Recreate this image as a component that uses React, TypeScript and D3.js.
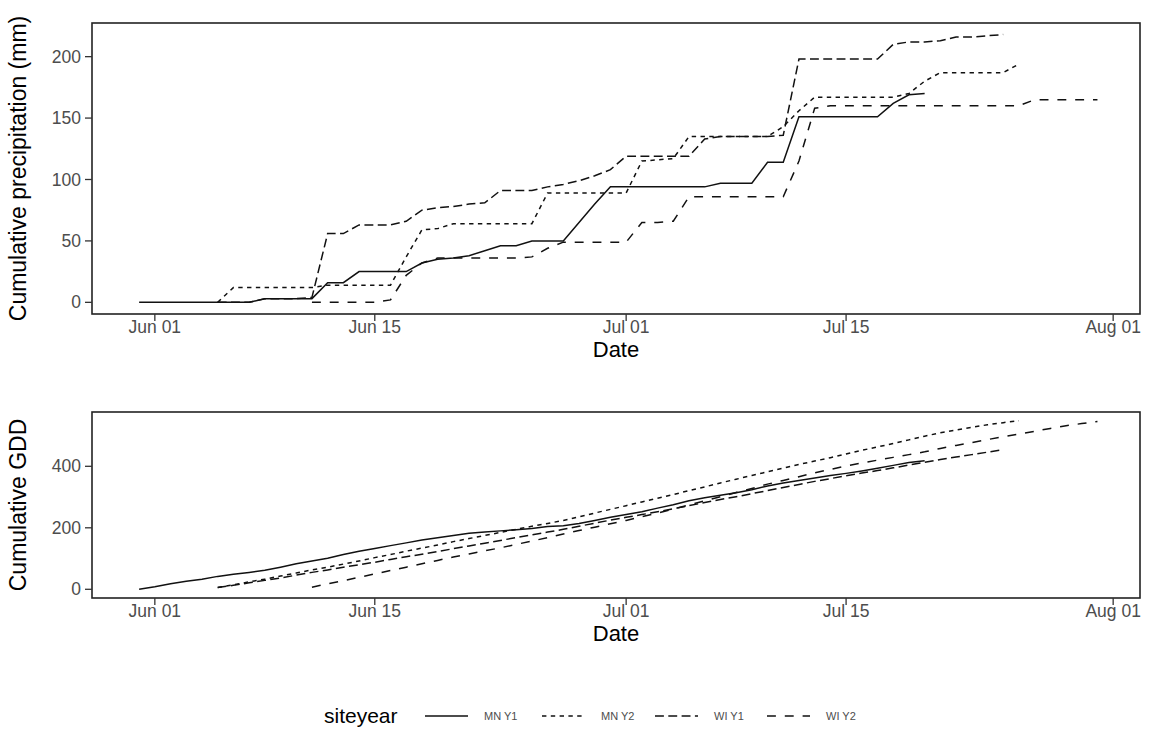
import React from 'react';
import * as d3 from 'd3';

// siteyear series, daily values starting at the given date
const siteyears = ['MN Y1', 'MN Y2', 'WI Y1', 'WI Y2'];
const startDates = ['2021-05-31', '2021-06-05', '2021-06-05', '2021-06-11'];

// cumulative precipitation (mm)
const precipMNY1 = [0, 0, 0, 0, 0, 0, 0, 0, 3, 3, 3, 3, 16, 16, 25, 25, 25, 25, 32, 35, 36, 38, 42, 46, 46, 50, 50, 50, 65, 80, 94, 94, 94, 94, 94, 94, 94, 97, 97, 97, 114, 114, 151, 151, 151, 151, 151, 151, 162, 169, 170];
const precipMNY2 = [0, 12, 12, 12, 12, 12, 12, 14, 14, 14, 14, 14, 37, 59, 60, 64, 64, 64, 64, 64, 64, 89, 89, 89, 89, 89, 89, 115, 116, 117, 135, 135, 135, 135, 135, 135, 143, 156, 167, 167, 167, 167, 167, 167, 170, 180, 187, 187, 187, 187, 187, 194];
const precipWIY1 = [0, 0, 0, 3, 3, 3, 4, 56, 56, 63, 63, 63, 66, 75, 77, 78, 80, 81, 91, 91, 91, 94, 96, 99, 103, 108, 119, 119, 119, 119, 119, 133, 135, 135, 135, 135, 136, 198, 198, 198, 198, 198, 198, 210, 212, 212, 213, 216, 216, 217, 218];
const precipWIY2 = [0, 0, 0, 0, 0, 2, 22, 32, 36, 36, 36, 36, 36, 36, 37, 44, 49, 49, 49, 49, 49, 65, 65, 66, 86, 86, 86, 86, 86, 86, 86, 115, 158, 160, 160, 160, 160, 160, 160, 160, 160, 160, 160, 160, 160, 160, 165, 165, 165, 165, 165];

// cumulative GDD
const gddMNY1 = [0, 8, 18, 26, 33, 42, 49, 55, 62, 72, 83, 92, 101, 113, 124, 133, 142, 151, 160, 168, 175, 182, 186, 190, 194, 198, 204, 207, 214, 224, 234, 243, 252, 264, 275, 288, 298, 306, 314, 324, 336, 346, 354, 362, 370, 377, 385, 394, 403, 412, 418];
const gddMNY2 = [6, 15, 24, 33, 43, 53, 63, 72, 82, 92, 103, 113, 124, 134, 144, 155, 165, 175, 185, 195, 205, 214, 224, 236, 248, 260, 272, 284, 296, 308, 321, 333, 346, 358, 370, 382, 394, 406, 417, 428, 440, 452, 463, 474, 486, 498, 509, 518, 527, 535, 542, 548];
const gddWIY1 = [6, 13, 21, 29, 37, 46, 55, 63, 72, 80, 88, 97, 106, 114, 123, 132, 141, 150, 159, 168, 177, 186, 195, 205, 215, 225, 234, 243, 252, 262, 272, 282, 292, 301, 311, 321, 331, 341, 351, 360, 369, 378, 386, 395, 404, 413, 422, 430, 438, 446, 454];
const gddWIY2 = [7, 18, 28, 39, 50, 61, 72, 83, 94, 105, 115, 125, 135, 146, 157, 168, 180, 191, 202, 213, 224, 236, 248, 261, 274, 288, 301, 315, 328, 342, 354, 366, 379, 390, 401, 411, 420, 429, 438, 447, 458, 468, 477, 487, 496, 505, 514, 523, 532, 539, 546];

const xTicks = ['2021-06-01', '2021-06-15', '2021-07-01', '2021-07-15', '2021-08-01'];
const precipTicks = [0, 50, 100, 150, 200];
const gddTicks = [0, 200, 400];

const dashes = [null, '4.4,4.4', '8.9,4.4', '8.9,8.9'];

const W = 1155;
const H = 749;
const font = "'Liberation Sans', Arial, sans-serif";
const tickColor = '#4d4d4d';

type Pt = { date: Date; value: number };

const parse = d3.utcParse('%Y-%m-%d');
const fmt = d3.utcFormat('%b %d');

const toSeries = (values: number[], start: string): Pt[] => {
  const t0 = parse(start)!;
  return values.map((v, i) => ({ date: d3.utcDay.offset(t0, i), value: v }));
};

const x = d3.scaleUtc()
  .domain([d3.utcHour.offset(parse('2021-06-01')!, -96), d3.utcHour.offset(parse('2021-08-01')!, 41)])
  .range([92, 1140]);

const Panel = ({ series, top, bottom, domain, ticks, title }: {
  series: Pt[][]; top: number; bottom: number; domain: [number, number]; ticks: number[]; title: string;
}) => {
  const y = d3.scaleLinear().domain(domain).range([bottom, top]);
  const line = d3.line<Pt>().x(d => x(d.date)).y(d => y(d.value));
  const [x0, x1] = x.range();
  return (
    <g>
      {series.map((s, i) => (
        <path key={i} d={line(s) || ''} fill='none' stroke='#111' strokeWidth={1.5}
          strokeDasharray={dashes[i] || undefined} />
      ))}
      <rect x={x0} y={top} width={x1 - x0} height={bottom - top} fill='none' stroke='#222' strokeWidth={1.6} />
      {ticks.map(t => (
        <g key={t}>
          <line x1={x0 - 7} x2={x0} y1={y(t)} y2={y(t)} stroke='#333' strokeWidth={1.3} />
          <text x={x0 - 11} y={y(t)} dy='0.35em' textAnchor='end' fill={tickColor} fontSize={17.5}>{t}</text>
        </g>
      ))}
      {xTicks.map(s => {
        const px = x(parse(s)!);
        return (
          <g key={s}>
            <line x1={px} x2={px} y1={bottom} y2={bottom + 7} stroke='#333' strokeWidth={1.3} />
            <text x={px} y={bottom + 19} textAnchor='middle' fill={tickColor} fontSize={17.5}>{fmt(parse(s)!)}</text>
          </g>
        );
      })}
      <text x={(x0 + x1) / 2} y={bottom + 42.5} textAnchor='middle' fontSize={22} fill='#000'>Date</text>
      <text transform={`translate(26,${(top + bottom) / 2}) rotate(-90)`} textAnchor='middle' fontSize={23} fill='#000'>{title}</text>
    </g>
  );
};

const App = () => {
  const precip = [precipMNY1, precipMNY2, precipWIY1, precipWIY2].map((v, i) => toSeries(v, startDates[i]));
  const gdd = [gddMNY1, gddMNY2, gddWIY1, gddWIY2].map((v, i) => toSeries(v, startDates[i]));
  const legendY = 716;
  const keyX = [425, 542, 655, 767];
  return (
    <svg width={W} height={H} style={{ position: 'absolute', left: 0, top: 0, background: '#fff' }} fontFamily={font}>
      <rect width={W} height={H} fill='#fff' />
      <Panel series={precip} top={23} bottom={314} domain={[-9.5, 227.4]} ticks={precipTicks} title='Cumulative precipitation (mm)' />
      <Panel series={gdd} top={412} bottom={598} domain={[-28.3, 576.6]} ticks={gddTicks} title='Cumulative GDD' />
      <g>
        <text x={324} y={legendY} dy='0.35em' fontSize={21} fill='#000'>siteyear</text>
        {siteyears.map((s, i) => (
          <g key={s}>
            <line x1={keyX[i]} x2={keyX[i] + 43} y1={legendY} y2={legendY} stroke='#111' strokeWidth={1.5}
              strokeDasharray={dashes[i] || undefined} />
            <text x={keyX[i] + 59} y={legendY} dy='0.35em' fontSize={11} fill={tickColor}>{s}</text>
          </g>
        ))}
      </g>
    </svg>
  );
};

export default App;
